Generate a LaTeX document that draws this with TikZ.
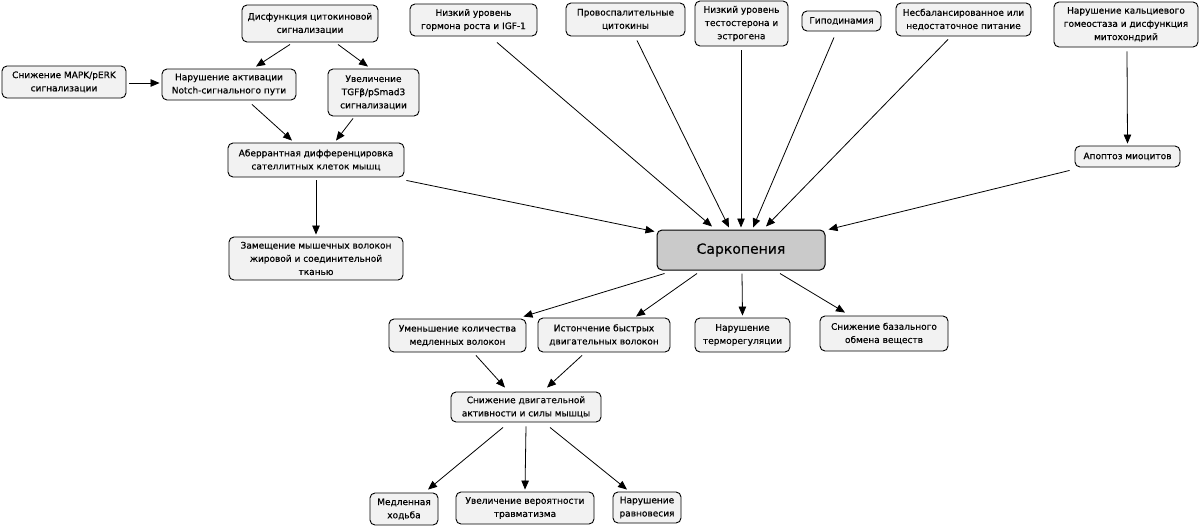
\documentclass[tikz,border=0pt]{standalone}
\usepackage{fontspec}
\setmainfont{DejaVu Sans}[FakeBold=0.35]
\newfontfamily\heavyfont{DejaVu Sans}[FakeBold=0.35]
\usetikzlibrary{arrows.meta,calc}
\definecolor{boxfill}{HTML}{F2F2F2}
\definecolor{sarcfill}{HTML}{CACACA}
\begin{document}
\begin{tikzpicture}[x=1pt,y=-1pt,
  bx/.style={draw=black,line width=0.9pt,rounded corners=5pt,fill=boxfill,align=center,inner sep=0pt,
    font=\heavyfont\fontsize{9}{13.2}\selectfont},
  arr/.style={draw=black,line width=0.8pt,-{Triangle[length=9pt,width=7.5pt]}}]
\useasboundingbox (0,0) rectangle (1200,528);
\fill[white] (0,0) rectangle (1200,528);
\def\bnode#1#2#3#4#5#6{\node[bx,minimum width=#4pt,minimum height=#5pt] (#1) at (#2,#3) {#6};}
\bnode{cyto}{310}{23.5}{136}{37}{Дисфункция цитокиновой\\сигнализации}
\bnode{mapk}{64}{82}{124}{32}{Снижение MAPK/pERK\\сигнализации}
\bnode{notch}{229}{84.5}{134}{31}{Нарушение активации\\Notch-сигнального пути}
\bnode{tgf}{373.5}{92.5}{91}{47}{Увеличение\\TGFβ/pSmad3\\сигнализации}
\bnode{aber}{316}{160}{176}{34}{Аберрантная дифференцировка\\сателлитных клеток мышц}
\bnode{zam}{316}{258.5}{174}{43}{Замещение мышечных волокон\\жировой и соединительной\\тканью}
\bnode{gh}{473.5}{20}{127}{32}{Низкий уровень\\гормона роста и IGF-1}
\bnode{pro}{625.5}{19.5}{119}{33}{Провоспалительные\\цитокины}
\bnode{test}{741.5}{23.5}{93}{45}{Низкий уровень\\тестостерона и\\эстрогена}
\bnode{hypo}{841.5}{21}{79}{20}{Гиподинамия}
\bnode{nutr}{963.5}{19.5}{135}{33}{Несбалансированное или\\недостаточное питание}
\bnode{calc}{1126}{24.5}{144}{45}{Нарушение кальциевого\\гомеостаза и дисфункция\\митохондрий}
\bnode{apo}{1127.5}{156.5}{105}{21}{Апоптоз миоцитов}
\node[bx,fill=sarcfill,line width=1pt,minimum width=168pt,minimum height=40pt,font=\heavyfont\fontsize{14}{16}\selectfont] (sarc) at (741,250) {Саркопения};
\bnode{slow}{457.5}{335.5}{137}{33}{Уменьшение количества\\медленных волокон}
\bnode{fast}{604}{335}{132}{34}{Истончение быстрых\\двигательных волокон}
\bnode{therm}{742.5}{335}{95}{34}{Нарушение\\терморегуляции}
\bnode{basal}{884}{333.5}{128}{35}{Снижение базального\\обмена веществ}
\bnode{motor}{526}{407}{150}{30}{Снижение двигательной\\активности и силы мышцы}
\bnode{walk}{404}{509}{68}{32}{Медленная\\ходьба}
\bnode{trauma}{525}{508}{138}{32}{Увеличение вероятности\\травматизма}
\bnode{balance}{647}{507.5}{68}{31}{Нарушение\\равновесия}
% connectors
\draw[arr] ($(cyto.south)+(-20,2)$) -- ($(notch.north)+(27,-2)$);
\draw[arr] ($(cyto.south)+(28,2)$) -- ($(tgf.north)+(-5.5,-2)$);
\draw[arr] ($(mapk.east)+(3,1)$) -- ($(notch.west)+(-2,-1.5)$);
\draw[arr] ($(notch.south)+(23,4)$) -- ($(aber.north)+(-24,-2)$);
\draw[arr] ($(tgf.south)+(-20.5,2)$) -- ($(aber.north)+(20,-2)$);
\draw[arr] ($(aber.south)+(0,3)$) -- ($(zam.north)+(0,-2)$);
\draw[arr] ($(aber.south east)+(2,3)$) -- ($(sarc.north west)+(-2,2)$);
\draw[arr] ($(gh.south)+(23.5,6)$) -- ($(sarc.north)+(-29,-3)$);
\draw[arr] ($(pro.south)+(11.5,4)$) -- ($(sarc.north)+(-12,-2)$);
\draw[arr] ($(test.south)+(-0.5,4)$) -- ($(sarc.north)+(0,-2)$);
\draw[arr] ($(hypo.south)+(-7.5,6)$) -- ($(sarc.north)+(12,-2)$);
\draw[arr] ($(nutr.south)+(-15.5,3)$) -- ($(sarc.north)+(25,-3)$);
\draw[arr] ($(calc.south)+(1,4)$) -- ($(apo.north)+(0,-2)$);
\draw[arr] ($(apo.south west)+(-5,3)$) -- ($(sarc.north east)+(3,0)$);
\draw[arr] ($(sarc.south west)+(8,3)$) -- ($(slow.north east)+(-3,-2)$);
\draw[arr] ($(sarc.south)+(-44,3)$) -- ($(fast.north)+(32,-1)$);
\draw[arr] ($(sarc.south)+(1,3)$) -- ($(therm.north)+(0,-2)$);
\draw[arr] ($(sarc.south)+(39,3)$) -- ($(basal.north)+(-39,-3)$);
\draw[arr] ($(slow.south)+(18.5,3)$) -- ($(motor.north)+(-21,-4)$);
\draw[arr] ($(fast.south)+(-22,3)$) -- ($(motor.north)+(21,-4)$);
\draw[arr] ($(motor.south)+(-23,5)$) -- ($(walk.north)+(24,-3)$);
\draw[arr] ($(motor.south)+(0,4)$) -- ($(trauma.north)+(0,-2)$);
\draw[arr] ($(motor.south)+(24,5)$) -- ($(balance.north)+(-20,-2)$);
\end{tikzpicture}
\end{document}
